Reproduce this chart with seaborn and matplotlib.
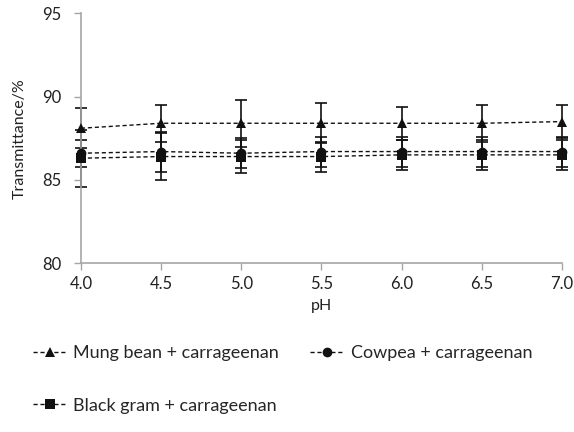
import numpy as np
import pandas as pd
import matplotlib
matplotlib.use("Agg")
import matplotlib.pyplot as plt
import seaborn as sns

# values
ph = [4.0, 4.5, 5.0, 5.5, 6.0, 6.5, 7.0]
mung = [88.1, 88.4, 88.4, 88.4, 88.4, 88.4, 88.5]
mung_err = [1.2, 1.1, 1.4, 1.2, 1.0, 1.1, 1.0]
cowpea = [86.6, 86.7, 86.6, 86.7, 86.7, 86.7, 86.7]
cowpea_err = [0.8, 1.2, 0.9, 0.9, 0.9, 0.9, 0.9]
blackgram = [86.3, 86.4, 86.4, 86.4, 86.5, 86.5, 86.5]
blackgram_err = [1.7, 1.4, 1.0, 0.9, 0.9, 0.9, 0.9]
labels = ["Mung bean + carrageenan", "Cowpea + carrageenan", "Black gram + carrageenan"]
markers = ["^", "o", "s"]

df = pd.concat([
    pd.DataFrame({"pH": ph, "T": mung, "err": mung_err, "sample": labels[0]}),
    pd.DataFrame({"pH": ph, "T": cowpea, "err": cowpea_err, "sample": labels[1]}),
    pd.DataFrame({"pH": ph, "T": blackgram, "err": blackgram_err, "sample": labels[2]}),
])

sns.set_style("white")
plt.rcParams["font.family"] = ["Lato", "DejaVu Sans"]

fig = plt.figure(figsize=(5.74, 4.32), dpi=100)
ax = fig.add_axes([0.141, 0.391, 0.838, 0.578])

for lab, mk in zip(labels, markers):
    d = df[df["sample"] == lab]
    ax.errorbar(d["pH"], d["T"], yerr=d["err"], fmt="none", ecolor="#111111",
                elinewidth=1.2, capsize=4, capthick=1.2, clip_on=False, zorder=2)
    sns.lineplot(data=d, x="pH", y="T", ax=ax, color="#111111", linestyle=(0, (3, 2)),
                 linewidth=1.0, marker=mk, markersize=7, markeredgewidth=0,
                 label=lab, clip_on=False, zorder=3)

ax.set_xlim(4.0, 7.0)
ax.set_ylim(80, 95)
ax.set_xticks(ph)
ax.set_xticklabels([f"{v:.1f}" for v in ph])
ax.set_yticks([80, 85, 90, 95])
ax.set_xlabel("pH", fontsize=11.5, color="#222222", labelpad=5)
ax.set_ylabel("Transmittance/%", fontsize=11.5, color="#222222", labelpad=11)
ax.tick_params(axis="both", labelsize=12, colors="#222222", length=5, width=1,
               direction="out", bottom=True, left=True)
ax.tick_params(axis="y", pad=9)
ax.tick_params(axis="x", pad=4)
ax.tick_params(axis="both", color="#a6a6a6")
for s in ["top", "right"]:
    ax.spines[s].set_visible(False)
for s in ["left", "bottom"]:
    ax.spines[s].set_color("#a6a6a6")
    ax.spines[s].set_linewidth(1.2)

# row-wise order: Mung, Cowpea on first row, Black gram below
h, l = ax.get_legend_handles_labels()
order = [0, 2, 1]
ax.legend([h[i] for i in order], [l[i] for i in order], loc="upper left",
          bbox_to_anchor=(-0.1, -0.33), ncol=2, frameon=False, borderpad=0,
          borderaxespad=0, fontsize=13, handlelength=1.9, labelspacing=2.0,
          columnspacing=1.7, handletextpad=0.35)

fig.savefig("out.png", dpi=100)
